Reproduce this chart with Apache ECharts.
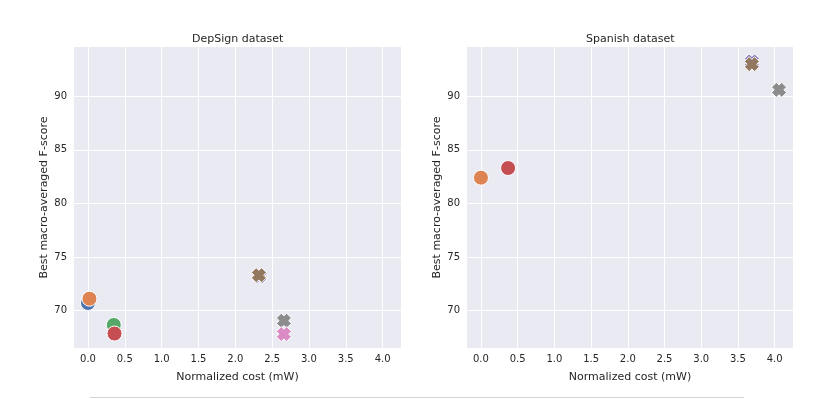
<!DOCTYPE html>
<html>
<head>
  <meta charset="utf-8">
  <title>DepSign / Spanish</title>
  <script src="https://cdn.jsdelivr.net/npm/echarts@6/dist/echarts.min.js"></script>
</head>
<body style="margin: 0; width: 830px; height: 399px; background: #fff;">
  <div id="container" style="width: 830px; height: 399px;"></div>
  <script type="text/javascript">
    // tick values
    var xTicks = [0, 0.5, 1, 1.5, 2, 2.5, 3, 3.5, 4];
    var yTicks = [70, 75, 80, 85, 90];
    var panelTitles = ['DepSign dataset', 'Spanish dataset'];

    // DepSign points [cost, F-score]
    var depBlue = [[0.0, 70.7]];
    var depOrange = [[0.02, 71.1]];
    var depGreen = [[0.35, 68.65]];
    var depRed = [[0.36, 67.85]];
    var depPurple = [[2.33, 73.2]];
    var depBrown = [[2.32, 73.3]];
    var depGray = [[2.66, 69.05]];
    var depPink = [[2.66, 67.8]];

    // Spanish points
    var spaOrange = [[0.0, 82.4]];
    var spaRed = [[0.37, 83.3]];
    var spaPurple = [[3.69, 93.25]];
    var spaBrown = [[3.69, 93.0]];
    var spaGray = [[4.06, 90.6]];

    var FONT = 'DejaVu Sans';
    var TXT = '#262626';
    // filled "X" marker, like seaborn's
    var CROSS = 'path://M3.2,0 L5,1.8 L6.8,0 L10,3.2 L8.2,5 L10,6.8 L6.8,10 L5,8.2 L3.2,10 L0,6.8 L1.8,5 L0,3.2 Z';

    var dom = document.getElementById('container');
    var myChart = echarts.init(dom, null, { renderer: 'canvas' });

    function xAxis(idx) {
      return {
        type: 'value', gridIndex: idx, min: -0.19, max: 4.25,
        name: 'Normalized cost (mW)', nameLocation: 'middle', nameGap: 24,
        nameTextStyle: { fontFamily: FONT, fontSize: 11, color: TXT },
        axisLine: { show: false },
        axisTick: { show: false, customValues: xTicks },
        axisLabel: {
          customValues: xTicks, margin: 6, fontFamily: FONT, fontSize: 10, color: TXT,
          formatter: function (v) { return v.toFixed(1); }
        },
        splitLine: { show: true, lineStyle: { color: '#fff', width: 1 } }
      };
    }
    function yAxis(idx) {
      return {
        type: 'value', gridIndex: idx, min: 66.5, max: 94.6,
        name: 'Best macro-averaged F-score', nameLocation: 'middle', nameGap: 24,
        nameRotate: 90,
        nameTextStyle: { fontFamily: FONT, fontSize: 11, color: TXT },
        axisLine: { show: false },
        axisTick: { show: false, customValues: yTicks },
        axisLabel: { customValues: yTicks, margin: 7, fontFamily: FONT, fontSize: 10, color: TXT },
        splitLine: { show: true, lineStyle: { color: '#fff', width: 1 } }
      };
    }
    function pts(name, data, idx, color, cross) {
      return {
        name: name, type: 'scatter', xAxisIndex: idx, yAxisIndex: idx,
        data: data,
        symbol: cross ? CROSS : 'circle',
        symbolSize: 15,
        itemStyle: { color: color, opacity: 1, borderColor: '#fff', borderWidth: 1 },
        emphasis: { disabled: true }
      };
    }

    var option = {
      animation: false,
      backgroundColor: '#fff',
      title: [
        { text: panelTitles[0], left: 192, top: 34, padding: 0,
          textStyle: { fontFamily: FONT, fontSize: 11, fontWeight: 'normal', color: TXT } },
        { text: panelTitles[1], left: 586, top: 34, padding: 0,
          textStyle: { fontFamily: FONT, fontSize: 11, fontWeight: 'normal', color: TXT } }
      ],
      grid: [
        { left: 74, top: 47, width: 327, height: 301, show: true, backgroundColor: '#eaeaf2', borderWidth: 0 },
        { left: 467, top: 47, width: 326, height: 301, show: true, backgroundColor: '#eaeaf2', borderWidth: 0 }
      ],
      xAxis: [xAxis(0), xAxis(1)],
      yAxis: [yAxis(0), yAxis(1)],
      graphic: [
        { type: 'line', shape: { x1: 90, y1: 397.5, x2: 744, y2: 397.5 },
          style: { stroke: '#d4d4d4', lineWidth: 1 } }
      ],
      series: [
        pts('blue', depBlue, 0, '#4c72b0'),
        pts('orange', depOrange, 0, '#dd8452'),
        pts('green', depGreen, 0, '#55a868'),
        pts('red', depRed, 0, '#c44e52'),
        pts('purple', depPurple, 0, '#8172b3', true),
        pts('brown', depBrown, 0, '#937860', true),
        pts('gray', depGray, 0, '#8c8c8c', true),
        pts('pink', depPink, 0, '#da8bc3', true),
        pts('orange', spaOrange, 1, '#dd8452'),
        pts('red', spaRed, 1, '#c44e52'),
        pts('purple', spaPurple, 1, '#8172b3', true),
        pts('brown', spaBrown, 1, '#937860', true),
        pts('gray', spaGray, 1, '#8c8c8c', true)
      ]
    };

    myChart.setOption(option);
    window.addEventListener('resize', myChart.resize);
  </script>
</body>
</html>
